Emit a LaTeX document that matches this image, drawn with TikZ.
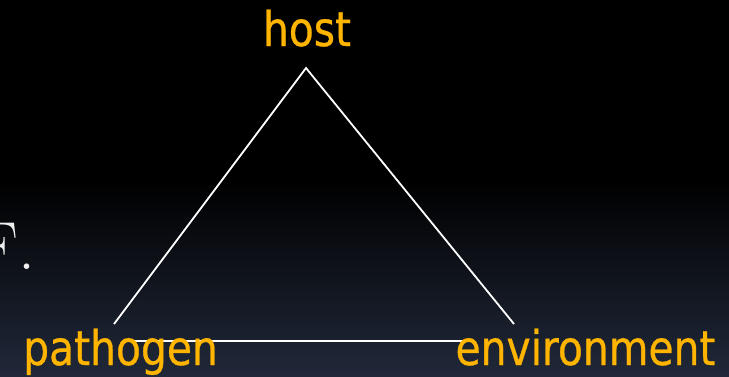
\documentclass[tikz,border=0pt]{standalone}
\usepackage{fontspec}
\newfontfamily\labelfont[FakeStretch=0.85,FakeBold=0.6]{DejaVu Sans}
\definecolor{labelorange}{RGB}{255,181,0}
\definecolor{bgbottom}{RGB}{32,40,57}
\definecolor{bgtext}{RGB}{240,240,240}
\tikzset{
  lbl/.style={inner sep=0pt, anchor=base, text=labelorange, font=\labelfont\fontsize{48}{50}\selectfont},
  edge/.style={draw=white, line width=1.8pt},
}
\begin{document}
\begin{tikzpicture}[x=1pt,y=-1pt]
\useasboundingbox (0,0) rectangle (729,376);
\clip (0,0) rectangle (729,376);
\fill[black] (0,0) rectangle (729,180);
\shade[top color=black, bottom color=bgbottom] (0,179) rectangle (729,376);
% partially hidden text at the left edge
\node[inner sep=0pt, anchor=base west, text=bgtext, font=\fontsize{68}{72}\selectfont] (ftext) at (-23,269) {F.};
% triangle corners
\coordinate (apex) at (306,68);
\coordinate (lft) at (114,324);
\coordinate (rgt) at (514,324);
\coordinate (bl) at (130,341);
\coordinate (br) at (465,341);
\draw[edge] (lft) -- (apex) -- (rgt);
\draw[edge] (bl) -- (br);
% labels
\node[lbl] (host) at (307,46) {host};
\node[lbl] (pathogen) at (120.5,365) {pathogen};
\node[lbl] (environment) at (585.5,365) {environment};
\end{tikzpicture}
\end{document}
